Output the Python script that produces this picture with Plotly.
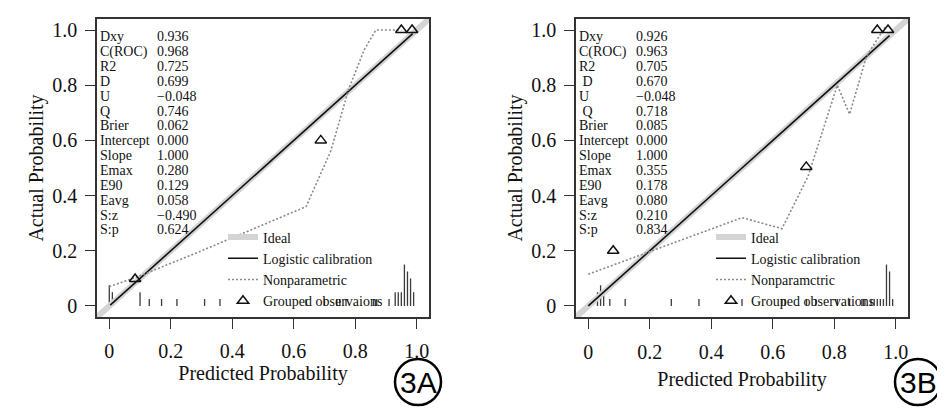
import plotly.graph_objects as go

# ---- data ----
stat_names_a = ["Dxy", "C(ROC)", "R2", "D", "U", "Q", "Brier", "Intercept",
                "Slope", "Emax", "E90", "Eavg", "S:z", "S:p"]
stat_vals_a = ["0.936", "0.968", "0.725", "0.699", "\u22120.048", "0.746", "0.062",
               "0.000", "1.000", "0.280", "0.129", "0.058", "\u22120.490", "0.624"]
stat_names_b = ["Dxy", "C(ROC)", "R2", "\u00a0D", "U", "\u00a0Q", "Brier", "Intercept",
                "Slope", "Emax", "E90", "Eavg", "S:z", "S:p"]
stat_vals_b = ["0.926", "0.963", "0.705", "0.670", "\u22120.048", "0.718", "0.085",
               "0.000", "1.000", "0.355", "0.178", "0.080", "0.210", "0.834"]

ideal = [-0.04, 1.04]

logit_x_a = [0.003, 0.987]
logit_y_a = [0.003, 0.987]
logit_x_b = [0.0, 0.98]
logit_y_b = [0.0, 0.98]

np_x_a = [0.0, 0.09, 0.30, 0.64, 0.72, 0.78, 0.83, 0.867, 0.95]
np_y_a = [0.07, 0.105, 0.20, 0.36, 0.56, 0.79, 0.93, 1.0, 1.0]
np_x_b = [0.0, 0.16, 0.50, 0.63, 0.715, 0.81, 0.85, 0.905, 0.95, 0.965]
np_y_b = [0.115, 0.18, 0.32, 0.28, 0.47, 0.80, 0.695, 0.905, 0.985, 1.01]

grp_x_a = [0.084, 0.688, 0.95, 0.985]
grp_y_a = [0.098, 0.60, 1.0, 1.0]
grp_x_b = [0.081, 0.709, 0.94, 0.975]
grp_y_b = [0.20, 0.504, 1.0, 1.0]

rug_bins_a = [0.00, 0.01, 0.10, 0.13, 0.17, 0.22, 0.31, 0.36, 0.64, 0.70, 0.74, 0.75,
              0.77, 0.86, 0.87, 0.91, 0.93, 0.94, 0.95, 0.96, 0.97, 0.98, 0.99]
rug_count_a = [3, 2, 2, 1, 1, 1, 1, 1, 1, 1, 1, 1,
               1, 1, 1, 1, 2, 2, 2, 6, 5, 4, 2]
rug_bins_b = [0.03, 0.04, 0.05, 0.07, 0.12, 0.27, 0.36, 0.50, 0.63, 0.64, 0.71, 0.74,
              0.81, 0.85, 0.89, 0.90, 0.92, 0.93, 0.94, 0.95, 0.96, 0.97, 0.98, 0.99]
rug_count_b = [2, 3, 2, 1, 1, 1, 1, 1, 1, 1, 1, 1,
               1, 1, 1, 1, 1, 1, 1, 1, 1, 6, 5, 1]

tick_vals = [0, 0.2, 0.4, 0.6, 0.8, 1.0]
tick_text = ["0", "0.2", "0.4", "0.6", "0.8", "1.0"]

SERIF = "Liberation Serif"
INK = "#111111"
W, H = 937, 400   # page body has an 8px margin, so the figure sits at (8, 8)


def rug(bins, counts):
    xs, ys = [], []
    top = max(counts)
    for b, c in zip(bins, counts):
        xs += [b, b, None]
        ys += [0, 0.15 * c / top, None]
    return xs, ys


fig = go.Figure()

panels = [
    ("x", "y", "legend", logit_x_a, logit_y_a, np_x_a, np_y_a, grp_x_a, grp_y_a,
     rug_bins_a, rug_count_a, "Nonparametric", "Grouped observaions"),
    ("x2", "y2", "legend2", logit_x_b, logit_y_b, np_x_b, np_y_b, grp_x_b, grp_y_b,
     rug_bins_b, rug_count_b, "Nonparamctric", "Grouped observations"),
]

for xa, ya, lg, lx, ly, nx, ny, gx, gy, rb, rc, np_name, grp_name in panels:
    rx, ry = rug(rb, rc)
    fig.add_trace(go.Scatter(x=rx, y=ry, xaxis=xa, yaxis=ya, mode="lines",
                             line=dict(color="#3a3a3a", width=1.3),
                             showlegend=False, hoverinfo="skip"))
    fig.add_trace(go.Scatter(x=ideal, y=ideal, xaxis=xa, yaxis=ya, mode="lines",
                             name="Ideal", legend=lg,
                             line=dict(color="#d4d4d4", width=6)))
    fig.add_trace(go.Scatter(x=lx, y=ly, xaxis=xa, yaxis=ya, mode="lines",
                             name="Logistic calibration", legend=lg,
                             line=dict(color="#111111", width=1.6)))
    fig.add_trace(go.Scatter(x=nx, y=ny, xaxis=xa, yaxis=ya, mode="lines",
                             name=np_name, legend=lg,
                             line=dict(color="#8a8a8a", width=1.6, dash="2px,2px")))
    fig.add_trace(go.Scatter(x=gx, y=gy, xaxis=xa, yaxis=ya, mode="markers",
                             name=grp_name, legend=lg,
                             marker=dict(symbol="triangle-up-open", size=10,
                                         color="#111111", line=dict(width=1.5))))

# stats text blocks
for xa, ya, names, vals in [("x", "y", stat_names_a, stat_vals_a),
                            ("x2", "y2", stat_names_b, stat_vals_b)]:
    for i, (n, v) in enumerate(zip(names, vals)):
        yy = 0.975 - i * 0.0538
        fig.add_annotation(x=-0.022, y=yy, xref=xa, yref=ya, text=n, showarrow=False,
                           xanchor="left", yanchor="middle", xshift=-5,
                           font=dict(family=SERIF, size=14, color=INK))
        fig.add_annotation(x=0.152, y=yy, xref=xa, yref=ya, text=v, showarrow=False,
                           xanchor="left", yanchor="middle", xshift=-1,
                           font=dict(family=SERIF, size=14, color=INK))

axis_common = dict(
    range=[-0.04, 1.04], tickvals=tick_vals, ticktext=tick_text,
    ticks="outside", ticklen=10, tickwidth=1.3, tickcolor="#333333",
    showline=True, linecolor="#333333", linewidth=1.5, mirror=True,
    showgrid=False, zeroline=False,
    tickfont=dict(family=SERIF, size=20, color=INK),
)

fig.update_layout(
    width=W, height=H,
    margin=dict(l=0, r=0, t=0, b=0),
    paper_bgcolor="white", plot_bgcolor="white",
    font=dict(family=SERIF, color=INK),
    xaxis=dict(domain=[89 / W, 421 / W], anchor="y", ticklabelstandoff=5,
               title=dict(text="Predicted Probability", standoff=0,
                          font=dict(family=SERIF, size=20, color=INK)),
               **axis_common),
    yaxis=dict(domain=[1 - 309 / H, 1 - 11 / H], anchor="x", ticklabelstandoff=4,
               title=dict(text="Actual Probability", standoff=3,
                          font=dict(family=SERIF, size=20, color=INK)),
               **axis_common),
    xaxis2=dict(domain=[568 / W, 900 / W], anchor="y2", ticklabelstandoff=6,
                title=dict(text="Predicted Probability", standoff=10,
                           font=dict(family=SERIF, size=20, color=INK)),
                **axis_common),
    yaxis2=dict(domain=[1 - 309 / H, 1 - 11 / H], anchor="x2", ticklabelstandoff=4,
                title=dict(text="Actual Probability", standoff=3,
                           font=dict(family=SERIF, size=20, color=INK)),
                **axis_common),
    legend=dict(x=215 / W, y=1 - 261 / H, xanchor="left", yanchor="middle",
                bgcolor="rgba(0,0,0,0)", font=dict(family=SERIF, size=14, color=INK),
                itemwidth=30, tracegroupgap=0),
    legend2=dict(x=703 / W, y=1 - 261 / H, xanchor="left", yanchor="middle",
                 bgcolor="rgba(0,0,0,0)", font=dict(family=SERIF, size=14, color=INK),
                 itemwidth=30, tracegroupgap=0),
)

# panel tags
for cx, cy, tag in [(410, 374, "3A"), (910, 374, "3B")]:
    r = 23
    fig.add_shape(type="circle", xref="paper", yref="paper",
                  x0=(cx - r) / W, x1=(cx + r) / W,
                  y0=1 - (cy + r) / H, y1=1 - (cy - r) / H,
                  line=dict(color="#000000", width=2.5))
    fig.add_annotation(x=cx / W, y=1 - cy / H, xref="paper", yref="paper",
                       text=tag, showarrow=False, xanchor="center", yanchor="middle",
                       font=dict(family="Liberation Sans", size=30, color="#000000"))

fig.write_html("out.html")
